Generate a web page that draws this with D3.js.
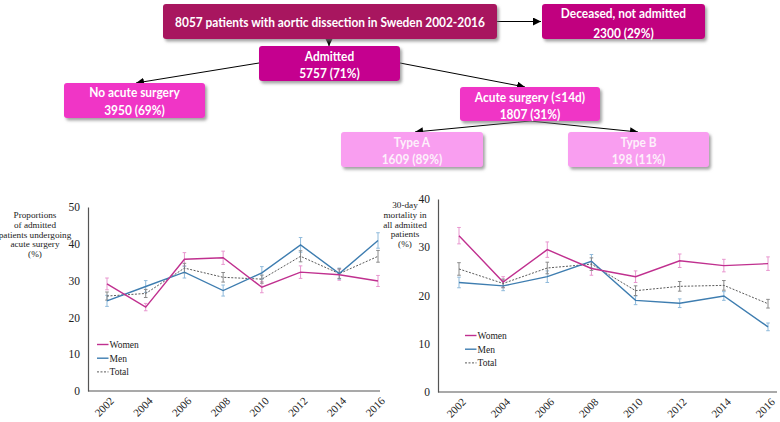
<!DOCTYPE html>
<html>
<head>
<meta charset="utf-8">
<script src="https://cdn.jsdelivr.net/npm/d3@7"></script>
<style>
  html, body { margin: 0; padding: 0; background: #fff; }
  svg { display: block; }
  text.xlab { transform-box: view-box; }
</style>
</head>
<body>
<svg id="chart" width="780" height="422"></svg>
<script>
// ---------------- DATA ----------------
const years = [2002, 2004, 2006, 2008, 2010, 2012, 2014, 2016];
const seriesNames = ["Women", "Men", "Total"];

// Left panel: proportion of admitted patients undergoing acute surgery (%)
const surgeryWomen = [29.1, 22.8, 35.8, 36.2, 28.2, 32.3, 31.6, 29.9];
const surgeryMen   = [24.5, 28.4, 32.3, 27.3, 32.1, 39.7, 31.9, 40.9];
const surgeryTotal = [25.8, 26.5, 33.4, 30.9, 30.4, 36.6, 31.9, 36.6];
const surgeryWomenErr = [1.6, 1.0, 1.8, 1.8, 1.5, 1.7, 1.5, 1.5];
const surgeryMenErr   = [1.5, 1.6, 1.6, 1.5, 1.7, 2.0, 1.5, 2.1];
const surgeryTotalErr = [1.1, 1.1, 1.3, 1.3, 1.1, 1.5, 1.3, 1.6];

// Right panel: 30-day mortality in all admitted patients (%)
const mortWomen = [32.4, 22.8, 29.5, 25.6, 23.9, 27.2, 26.2, 26.6];
const mortMen   = [22.7, 22.0, 23.9, 27.1, 19.0, 18.4, 19.9, 13.5];
const mortTotal = [25.5, 22.5, 25.7, 26.5, 21.0, 21.9, 22.1, 18.3];
const mortWomenErr = [1.7, 1.1, 1.6, 1.4, 1.2, 1.4, 1.3, 1.4];
const mortMenErr   = [1.1, 1.0, 1.2, 1.4, 0.9, 0.9, 0.9, 0.8];
const mortTotalErr = [1.3, 0.9, 1.2, 1.3, 1.0, 1.0, 1.0, 0.9];

const surgeryTicks = [0, 10, 20, 30, 40, 50];
const mortTicks = [0, 10, 20, 30, 40];

// Flowchart content
const flowText = {
  total:    ["8057 patients with aortic dissection in Sweden 2002-2016"],
  deceased: ["Deceased, not admitted", "2300 (29%)"],
  admitted: ["Admitted", "5757 (71%)"],
  noSurg:   ["No acute surgery", "3950 (69%)"],
  acute:    ["Acute surgery (\u226414d)", "1807 (31%)"],
  typeA:    ["Type A", "1609 (89%)"],
  typeB:    ["Type B", "198 (11%)"]
};

// ---------------- LAYOUT / STYLE ----------------
const svg = d3.select("#chart");
const defs = svg.append("defs");

const shadow = defs.append("filter").attr("id", "shadow")
  .attr("x", "-10%").attr("y", "-20%").attr("width", "130%").attr("height", "160%");
shadow.append("feDropShadow").attr("dx", 2).attr("dy", 2.5)
  .attr("stdDeviation", 1.4).attr("flood-color", "#7a7a7a").attr("flood-opacity", 0.7);

defs.append("marker").attr("id", "arrow")
  .attr("viewBox", "0 0 10 10").attr("refX", 10).attr("refY", 5)
  .attr("markerWidth", 8).attr("markerHeight", 8).attr("markerUnits", "userSpaceOnUse")
  .attr("orient", "auto")
  .append("path").attr("d", "M0,0 L10,5 L0,10 Z").attr("fill", "#000");

const boxLayout = {
  total:    { x: 163, y: 4,   w: 334, h: 35, fill: "#a8155f", lines: [22] },
  deceased: { x: 542, y: 4,   w: 163, h: 35, fill: "#c1047f", lines: [12.5, 32.5] },
  admitted: { x: 259, y: 46,  w: 141, h: 35, fill: "#c5068f", lines: [55.5, 72.5] },
  noSurg:   { x: 64,  y: 83,  w: 141, h: 35, fill: "#f035c6", lines: [92, 109.5] },
  acute:    { x: 460, y: 87,  w: 140, h: 34, fill: "#f035c6", lines: [96.5, 113.5] },
  typeA:    { x: 341, y: 132, w: 142, h: 35, fill: "#f99ef0", lines: [141.5, 158.5] },
  typeB:    { x: 568, y: 132, w: 141, h: 35, fill: "#f99ef0", lines: [141.5, 158.5] }
};

const flow = svg.append("g").attr("class", "flow");

const arrows = [
  [497, 21.5, 541, 21.5],
  [329, 39, 329, 46],
  [259, 63, 136, 83],
  [400, 63, 525, 87],
  [530, 121, 415, 132],
  [530, 121, 638, 132]
];
flow.selectAll("line.arrow").data(arrows).join("line")
  .attr("class", "arrow")
  .attr("x1", d => d[0]).attr("y1", d => d[1])
  .attr("x2", d => d[2]).attr("y2", d => d[3])
  .attr("stroke", "#000").attr("stroke-width", 1)
  .attr("marker-end", "url(#arrow)");

const keys = Object.keys(flowText);
const boxG = flow.selectAll("g.box").data(keys).join("g").attr("class", "box");
boxG.append("rect")
  .attr("x", k => boxLayout[k].x).attr("y", k => boxLayout[k].y)
  .attr("width", k => boxLayout[k].w).attr("height", k => boxLayout[k].h)
  .attr("rx", 3).attr("ry", 3)
  .attr("fill", k => boxLayout[k].fill)
  .attr("filter", "url(#shadow)");

const fontSize = 14;
const textNodes = [];
boxG.each(function(k) {
  const g = d3.select(this);
  const L = boxLayout[k];
  flowText[k].forEach((t, i) => {
    const tx = g.append("text")
      .attr("x", 0).attr("y", 0)
      .attr("text-anchor", "middle")
      .attr("dy", "0.36em")
      .attr("font-family", "Lato, 'Open Sans', sans-serif")
      .attr("font-weight", "bold")
      .attr("font-size", fontSize)
      .attr("fill", (k === "typeA" || k === "typeB") ? "#fdf0fb" : "#ffffff")
      .text(t);
    textNodes.push({ node: tx, cx: L.x + L.w / 2, cy: L.lines[i] });
  });
});
const sx = 310 / textNodes[0].node.node().getComputedTextLength();
textNodes.forEach(t => {
  t.node.attr("transform", `translate(${t.cx},${t.cy}) scale(${sx},1)`);
});

// ---------------- CHARTS ----------------
const colors = { Women: "#c0308f", Men: "#3e7db0", Total: "#5a5a5a" };
const errColors = { Women: "#e896cf", Men: "#8fbadb", Total: "#8a8a8a" };
const serif = "'Liberation Serif', 'Times New Roman', serif";

function drawPanel(cfg) {
  const g = svg.append("g");
  const x = d3.scalePoint().domain(years).range(cfg.xRange);
  const y = d3.scaleLinear().domain([0, cfg.yMax]).range([cfg.y0, cfg.yTop]);

  // y axis
  const ya = g.append("g").attr("transform", `translate(${cfg.axisX},0)`)
    .call(d3.axisLeft(y).tickValues(cfg.ticks).tickSize(0).tickPadding(8).tickFormat(d3.format("d")));
  ya.select(".domain").attr("stroke", "#555").attr("stroke-width", 1.2);
  ya.selectAll("text").attr("font-family", serif).attr("font-size", 11.5).attr("fill", "#222");

  // x axis baseline
  g.append("line").attr("x1", cfg.axisX).attr("x2", cfg.axisEnd)
    .attr("y1", cfg.y0).attr("y2", cfg.y0)
    .attr("stroke", "#555").attr("stroke-width", 1.2);

  // x tick labels, rotated -45 degrees (attribute and CSS transform)
  g.selectAll("text.xlab").data(years).join("text")
    .attr("class", "xlab")
    .attr("x", d => x(d) + 5).attr("y", cfg.y0 + 8)
    .attr("transform", d => `rotate(-45, ${x(d) + 5}, ${cfg.y0 + 8})`)
    .style("transform-origin", d => `${x(d) + 5}px ${cfg.y0 + 8}px`)
    .style("transform", "rotate(-45deg)")
    .attr("text-anchor", "end")
    .attr("dy", "0.35em")
    .attr("font-family", serif).attr("font-size", 11).attr("fill", "#222")
    .text(d => String(d));

  // y title
  const yt = g.append("text").attr("font-family", serif).attr("font-size", 9.2)
    .attr("fill", "#222").attr("text-anchor", "middle");
  cfg.title.forEach((t, i) => {
    yt.append("tspan").attr("x", cfg.titleX).attr("y", cfg.titleY + i * 9.8).text(t);
  });

  const series = [
    { name: "Women", v: cfg.women, e: cfg.womenErr },
    { name: "Men", v: cfg.men, e: cfg.menErr },
    { name: "Total", v: cfg.total, e: cfg.totalErr }
  ];

  series.forEach(s => {
    const eg = g.append("g").attr("stroke", errColors[s.name]).attr("stroke-width", 1);
    const pts = years.map((yr, i) => ({ yr, v: s.v[i], e: s.e[i] }));
    eg.selectAll("line.v").data(pts).join("line").attr("class", "v")
      .attr("x1", d => x(d.yr)).attr("x2", d => x(d.yr))
      .attr("y1", d => y(d.v - d.e)).attr("y2", d => y(d.v + d.e));
    eg.selectAll("line.t").data(pts).join("line").attr("class", "t")
      .attr("x1", d => x(d.yr) - 1.8).attr("x2", d => x(d.yr) + 1.8)
      .attr("y1", d => y(d.v + d.e)).attr("y2", d => y(d.v + d.e));
    eg.selectAll("line.b").data(pts).join("line").attr("class", "b")
      .attr("x1", d => x(d.yr) - 1.8).attr("x2", d => x(d.yr) + 1.8)
      .attr("y1", d => y(d.v - d.e)).attr("y2", d => y(d.v - d.e));
  });

  const line = d3.line().x((d, i) => x(years[i])).y(d => y(d));
  [series[2], series[1], series[0]].forEach(s => {
    g.append("path").datum(s.v)
      .attr("d", line)
      .attr("fill", "none")
      .attr("stroke", colors[s.name])
      .attr("stroke-width", s.name === "Total" ? 1 : 1.4)
      .attr("stroke-dasharray", s.name === "Total" ? "2,1.5" : null);
  });

  const lg = g.append("g");
  seriesNames.forEach((n, i) => {
    const yy = cfg.legendY + i * 13.7;
    lg.append("line").attr("x1", cfg.legendX).attr("x2", cfg.legendX + 11.5)
      .attr("y1", yy).attr("y2", yy)
      .attr("stroke", colors[n]).attr("stroke-width", n === "Total" ? 1 : 1.4)
      .attr("stroke-dasharray", n === "Total" ? "2,1.5" : null);
    lg.append("text").attr("x", cfg.legendX + 12.5).attr("y", yy)
      .attr("dy", "0.35em")
      .attr("font-family", serif).attr("font-size", 9.5).attr("fill", "#222")
      .text(n);
  });
}

drawPanel({
  xRange: [107, 378], axisX: 88, axisEnd: 380, y0: 391, yTop: 207, yMax: 50,
  ticks: surgeryTicks,
  women: surgeryWomen, men: surgeryMen, total: surgeryTotal,
  womenErr: surgeryWomenErr, menErr: surgeryMenErr, totalErr: surgeryTotalErr,
  title: ["Proportions", "of admitted", "patients undergoing", "acute surgery", "(%)"],
  titleX: 35, titleY: 218,
  legendX: 97, legendY: 344.5
});

drawPanel({
  xRange: [459, 768], axisX: 438, axisEnd: 777, y0: 392, yTop: 199, yMax: 40,
  ticks: mortTicks,
  women: mortWomen, men: mortMen, total: mortTotal,
  womenErr: mortWomenErr, menErr: mortMenErr, totalErr: mortTotalErr,
  title: ["30-day", "mortality in", "all admitted", "patients", "(%)"],
  titleX: 405, titleY: 208,
  legendX: 465, legendY: 335.5
});
</script>
</body>
</html>
